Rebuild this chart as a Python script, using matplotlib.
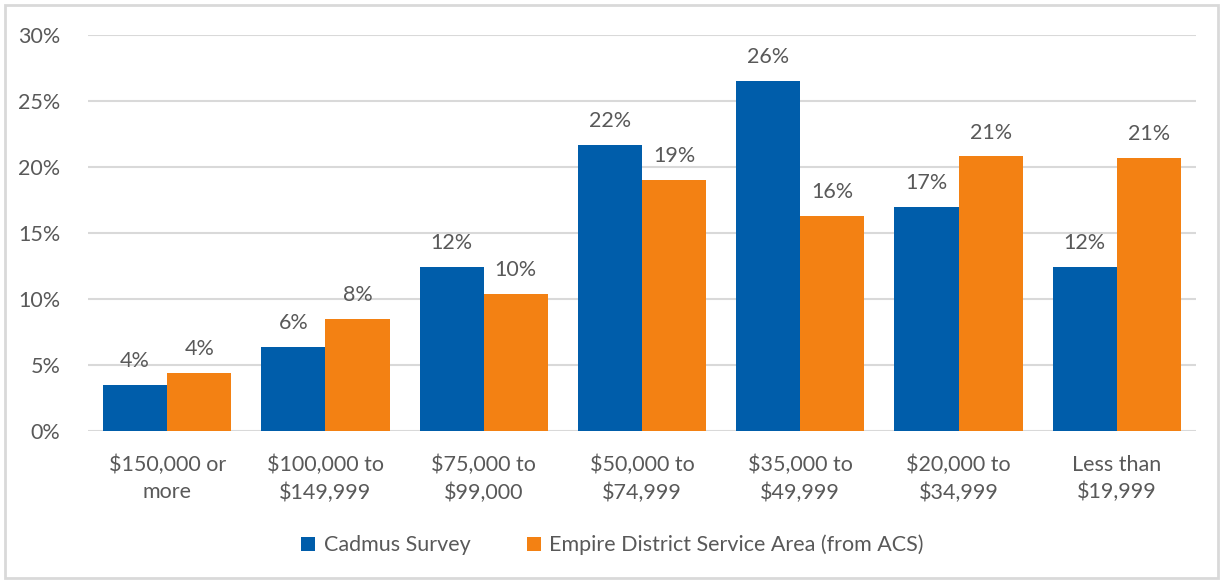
"""income distribution bar chart"""
import numpy as np
import matplotlib
matplotlib.use("Agg")
import matplotlib.pyplot as plt
from matplotlib.ticker import FuncFormatter

categories = ["$150,000 or\nmore", "$100,000 to\n$149,999", "$75,000 to\n$99,000",
              "$50,000 to\n$74,999", "$35,000 to\n$49,999", "$20,000 to\n$34,999",
              "Less than\n$19,999"]
cadmus = [3.5, 6.4, 12.4, 21.7, 26.5, 17.0, 12.4]
empire = [4.4, 8.5, 10.4, 19.0, 16.3, 20.8, 20.7]
series_names = ["Cadmus Survey", "Empire District Service Area (from ACS)"]

BLUE = "#005DAA"
ORANGE = "#F38113"
TEXT = "#595959"

plt.rcParams["font.family"] = ["Lato", "DejaVu Sans"]


def main():
    fig = plt.figure(figsize=(12.25, 5.81), dpi=100)
    ax = fig.add_axes([88 / 1225, 150 / 581, 1108 / 1225, 396 / 581])

    # grey frame round the whole chart
    fig.patches.append(plt.Rectangle((5 / 1225, 3 / 581), 1213 / 1225, 573 / 581,
                                     transform=fig.transFigure, fill=False,
                                     edgecolor="#D9D9D9", linewidth=2))

    x = np.arange(len(categories))
    w = 0.405
    b1 = ax.bar(x - w / 2, cadmus, w, color=BLUE, label=series_names[0], zorder=3)
    b2 = ax.bar(x + w / 2, empire, w, color=ORANGE, label=series_names[1], zorder=3)

    for bars, vals in ((b1, cadmus), (b2, empire)):
        for bar, v in zip(bars, vals):
            ax.annotate(f"{v:.0f}%", (bar.get_x() + bar.get_width() / 2, v),
                        xytext=(0, 10), textcoords="offset points",
                        ha="center", va="bottom", fontsize=15.5, color=TEXT)

    ax.set_xlim(-0.5, len(categories) - 0.5)
    ax.set_ylim(0, 30)
    ax.set_yticks(range(0, 31, 5))
    ax.yaxis.set_major_formatter(FuncFormatter(lambda v, _: f"{v:.0f}%"))
    ax.set_xticks(x)
    ax.set_xticklabels(categories, linespacing=1.45)
    ax.grid(axis="y", color="#D9D9D9", linewidth=1.5, zorder=0)
    for s in ax.spines.values():
        s.set_visible(False)
    ax.tick_params(length=0, labelsize=15.5, colors=TEXT)
    ax.tick_params(axis="y", pad=20)
    ax.tick_params(axis="x", pad=17)

    # legend sits centred on the figure, below the category labels
    fig.legend(handles=[b1, b2], loc="center", bbox_to_anchor=(0.5, 36 / 581), ncol=2,
               frameon=False, fontsize=15.5, labelcolor=TEXT, handlelength=0.65,
               handleheight=0.65, columnspacing=2.6, handletextpad=0.4)

    fig.savefig("out.png", dpi=100)


if __name__ == "__main__":
    main()
